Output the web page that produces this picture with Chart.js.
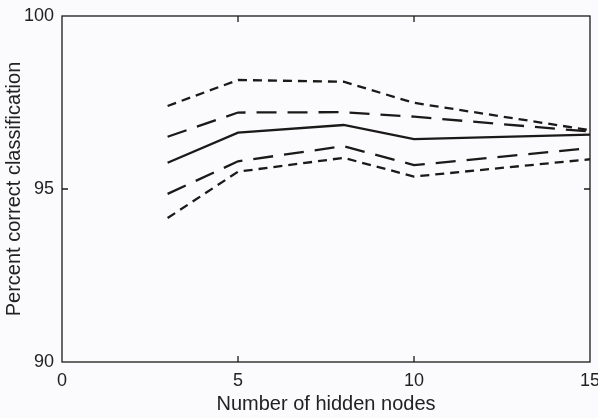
<!DOCTYPE html>
<html><head><meta charset="utf-8">
<script src="https://cdn.jsdelivr.net/npm/chart.js@4/dist/chart.umd.min.js"></script>
<style>html,body{margin:0;padding:0;background:#fbfafd;}#wrap{width:598px;height:418px;}</style>
</head><body><div id="wrap"><canvas id="c" width="598" height="418"></canvas></div>
<script>
const hiddenNodes = [3, 5, 8, 10, 15];
const upperShort = [97.40, 98.15, 98.10, 97.49, 96.70];
const upperLong  = [96.51, 97.21, 97.22, 97.09, 96.66];
const meanLine   = [95.76, 96.63, 96.85, 96.44, 96.57];
const lowerLong  = [94.86, 95.80, 96.24, 95.69, 96.18];
const lowerShort = [94.16, 95.50, 95.90, 95.36, 95.86];
const xTicks = [0, 5, 10, 15];
const yTicks = [90, 95, 100];

const ink = '#1c1a18';
const toPts = arr => hiddenNodes.map((x, i) => ({x, y: arr[i]}));
const ds = (arr, dash) => ({data: toPts(arr), borderColor: ink, borderWidth: 2.3, borderDash: dash, pointRadius: 0, fill: false, tension: 0});

const boxTicks = {
  id: 'boxTicks',
  afterDraw(chart) {
    const {ctx, chartArea: a, scales: {x, y}} = chart;
    ctx.save();
    ctx.strokeStyle = ink; ctx.lineWidth = 1.3;
    ctx.strokeRect(a.left, a.top, a.right - a.left, a.bottom - a.top);
    const L = 6;
    ctx.beginPath();
    xTicks.slice(1, -1).forEach(v => {
      const px = x.getPixelForValue(v);
      ctx.moveTo(px, a.bottom); ctx.lineTo(px, a.bottom - L);
      ctx.moveTo(px, a.top); ctx.lineTo(px, a.top + L);
    });
    yTicks.slice(1, -1).forEach(v => {
      const py = y.getPixelForValue(v);
      ctx.moveTo(a.left, py); ctx.lineTo(a.left + L, py);
      ctx.moveTo(a.right, py); ctx.lineTo(a.right - L, py);
    });
    ctx.stroke();
    ctx.restore();
  }
};

new Chart(document.getElementById('c'), {
  type: 'line',
  data: {datasets: [
    ds(upperShort, [9, 6]),
    ds(upperLong, [20, 11]),
    ds(meanLine, []),
    ds(lowerLong, [20, 11]),
    ds(lowerShort, [9, 6])
  ]},
  options: {
    responsive: false, animation: false,
    layout: {padding: {left: 0, right: 8, top: 16, bottom: 0}},
    plugins: {legend: {display: false}, tooltip: {enabled: false}},
    scales: {
      x: {
        type: 'linear', min: 0, max: 15,
        afterBuildTicks: s => { s.ticks = xTicks.map(v => ({value: v})); },
        afterFit: s => { s.height = 56; s.paddingRight = 0; s.paddingLeft = 0; },
        grid: {display: false, drawTicks: false},
        border: {display: false},
        ticks: {color: '#222', font: {family: 'Liberation Sans', size: 18}, padding: 8, maxRotation: 0, autoSkip: false},
        title: {display: true, text: 'Number of hidden nodes', color: '#222', font: {family: 'Liberation Sans', size: 20}, padding: {top: 0, bottom: 2}}
      },
      y: {
        type: 'linear', min: 90, max: 100,
        afterBuildTicks: s => { s.ticks = yTicks.map(v => ({value: v})); },
        afterFit: s => { s.width = 62; s.paddingTop = 0; s.paddingBottom = 0; },
        grid: {display: false, drawTicks: false},
        border: {display: false},
        ticks: {color: '#222', font: {family: 'Liberation Sans', size: 18}, padding: 8},
        title: {display: true, text: 'Percent correct classification', color: '#222', font: {family: 'Liberation Sans', size: 20}, padding: {top: 2, bottom: 0}}
      }
    }
  },
  plugins: [boxTicks]
});
</script>
</body></html>
